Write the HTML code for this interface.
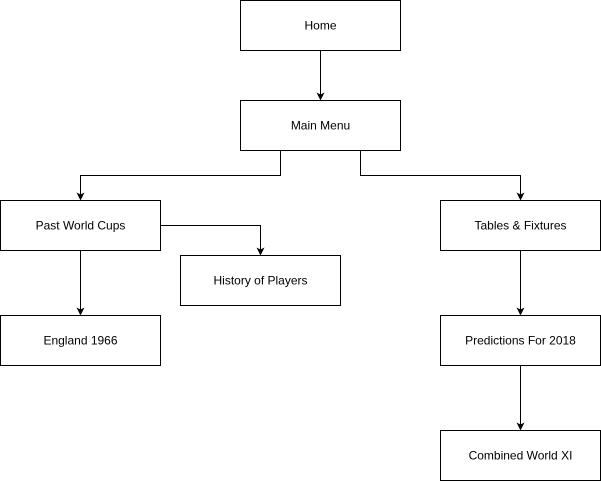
<!DOCTYPE html>
<html><head><meta charset="utf-8"><style>
html,body{margin:0;padding:0;background:#fff;}
svg{display:block;}
text{font-family:"Liberation Sans",Arial,sans-serif;font-size:12px;fill:#000;text-anchor:middle;dominant-baseline:central;}
</style></head><body>
<svg width="601" height="482" viewBox="0 0 601 482" xmlns="http://www.w3.org/2000/svg">
<defs><marker id="a" markerWidth="8" markerHeight="8" refX="7" refY="4" orient="auto" markerUnits="userSpaceOnUse"><path d="M0,0 L8,4 L0,8 L2,4 Z" fill="#000"/></marker></defs>
<g fill="#fff" stroke="#000" stroke-width="1">
<rect x="240.5" y="0.5" width="160" height="50"/>
<rect x="240.5" y="100.5" width="160" height="50"/>
<rect x="0.5" y="200.5" width="160" height="50"/>
<rect x="180.5" y="255.5" width="160" height="50"/>
<rect x="440.5" y="200.5" width="160" height="50"/>
<rect x="0.5" y="315.5" width="160" height="50"/>
<rect x="440.5" y="315.5" width="160" height="50"/>
<rect x="440.5" y="430.5" width="160" height="50"/>
</g>
<g fill="none" stroke="#000" stroke-width="1" marker-end="url(#a)">
<path d="M320.5 50.5 V99.5"/>
<path d="M280.5 150.5 V175.5 H80.5 V199.5"/>
<path d="M360.5 150.5 V175.5 H520.5 V199.5"/>
<path d="M160.5 225.5 H260.5 V254.5"/>
<path d="M80.5 250.5 V314.5"/>
<path d="M520.5 250.5 V314.5"/>
<path d="M520.5 365.5 V429.5"/>
</g>
<text x="320.5" y="25.5">Home</text>
<text x="320.5" y="125.5">Main Menu</text>
<text x="80.5" y="225.5">Past World Cups</text>
<text x="260.5" y="280.5">History of Players</text>
<text x="520.5" y="225.5">Tables &amp; Fixtures</text>
<text x="80.5" y="340.5">England 1966</text>
<text x="520.5" y="340.5">Predictions For 2018</text>
<text x="520.5" y="455.5">Combined World XI</text>
</svg>
</body></html>
